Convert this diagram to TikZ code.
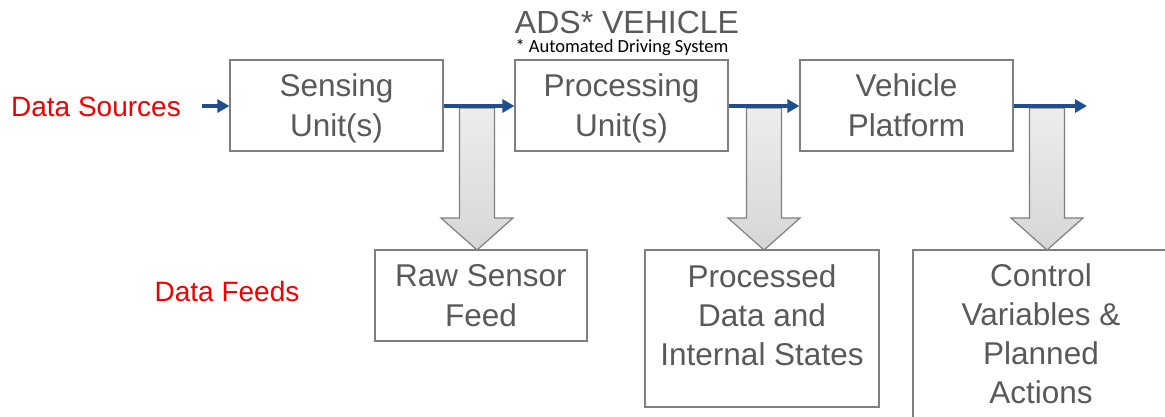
\documentclass[tikz,border=0pt]{standalone}
\usepackage{fontspec}
\setmainfont{Liberation Sans}
\newfontfamily\notefont{Carlito}
\usetikzlibrary{arrows.meta}

\definecolor{txtgray}{RGB}{89,89,89}
\definecolor{linegray}{RGB}{127,127,127}
\definecolor{flowblue}{RGB}{31,78,140}
\definecolor{srcred}{RGB}{240,0,0}

\tikzset{
	unitbox/.style={draw=linegray, line width=1.2pt, fill=white, text=txtgray, align=center, inner sep=0pt, text depth=0pt, font=\fontsize{31.5}{40}\selectfont},
	boxtext/.style={text=txtgray, align=center, inner sep=0pt, font=\fontsize{31.5}{39}\selectfont},
	redtext/.style={text=srcred, inner sep=0pt, font=\fontsize{28}{34}\selectfont},
	flow/.style={draw=flowblue, line width=3.4pt, -{Triangle[length=12pt,width=13pt]}},
	bigarrow/.style={draw=linegray, line width=1.2pt, top color=black!7, bottom color=black!16}
}

% block arrow: centre x, top y, tip y
\newcommand{\feedarrow}[3]{%
	\draw[bigarrow] (#1-17.5,#2) -- (#1+17.5,#2) -- (#1+17.5,#3-32) -- (#1+36,#3-32)
		-- (#1,#3) -- (#1-36,#3-32) -- (#1-17.5,#3-32) -- cycle;}

\begin{document}
\begin{tikzpicture}[x=1pt, y=-1pt]
	\clip (0,0) rectangle (1165,417);
	\fill[white] (0,0) rectangle (1165,417);

	\draw (627,22) node[text=txtgray, inner sep=0pt, font=\fontsize{32}{36}\selectfont](title) {ADS* VEHICLE};
	\draw (622,48) node[text=black, inner sep=0pt, font=\notefont\fontsize{18.5}{20}\selectfont](note) {* Automated Driving System};

	\draw (96,107) node[redtext](src) {Data Sources};
	\draw (227,291) node[redtext](feeds) {Data Feeds};

	\draw (336.5,105.5) node[unitbox, minimum width=213pt, minimum height=91pt](sense) {Sensing\\Unit(s)};
	\draw (621.5,105.5) node[unitbox, minimum width=213pt, minimum height=91pt](proc) {Processing\\Unit(s)};
	\draw (906.5,105.5) node[unitbox, minimum width=213pt, minimum height=91pt](veh) {Vehicle\\Platform};

	\draw (481,295.5) node[unitbox, minimum width=212pt, minimum height=91pt](raw) {Raw Sensor\\Feed};
	\draw (762,328.5) node[unitbox, minimum width=234pt, minimum height=157pt](procdata) {};
	\draw (762,315) node[boxtext](procdatatxt) {Processed\\Data and\\Internal States};
	\draw (1041,335) node[unitbox, minimum width=256pt, minimum height=170pt](ctrl) {};
	\draw (1041,334) node[boxtext](ctrltxt) {Control\\Variables \&\\Planned\\Actions};

	\feedarrow{477}{108}{250}
	\feedarrow{764}{108}{250}
	\feedarrow{1047}{108}{250}

	\coordinate (in) at (202,106);
	\coordinate (out) at (1087,106);
	\draw[flow] (in) -- (sense.west |- in);
	\draw[flow] (sense.east |- in) -- (proc.west |- in);
	\draw[flow] (proc.east |- in) -- (veh.west |- in);
	\draw[flow] (veh.east |- in) -- (out);
\end{tikzpicture}
\end{document}
